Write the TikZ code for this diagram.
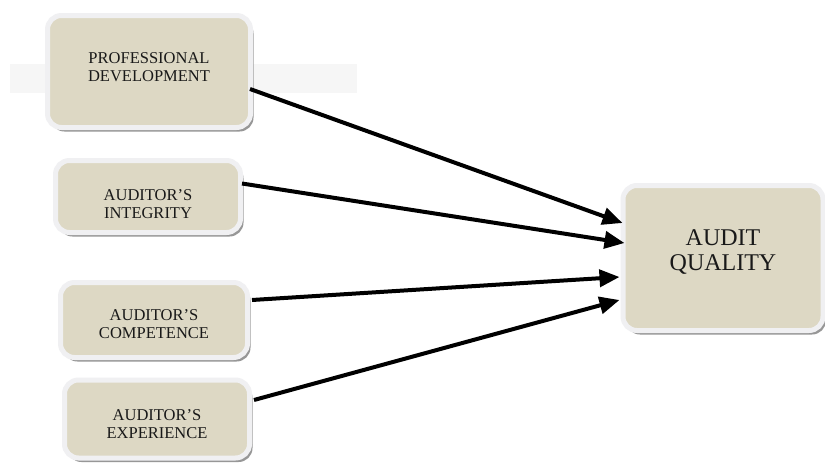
\documentclass[tikz,border=0pt]{standalone}
\usepackage{fontspec}
\setmainfont{Liberation Serif}
\usetikzlibrary{shadows,arrows.meta}
\definecolor{beige}{RGB}{221,216,196}
\definecolor{rim}{RGB}{240,240,242}
\definecolor{band}{RGB}{246,246,246}
\definecolor{shade}{RGB}{140,140,140}
\begin{document}
\begin{tikzpicture}[x=1pt,y=-1pt,
  factor/.style={rectangle, rounded corners=14pt, fill=beige, draw=rim, line width=5pt,
    inner sep=0pt,
    drop shadow={shadow xshift=3pt, shadow yshift=-4pt, fill=shade, opacity=0.9}},
  caption/.style={align=center, inner sep=0pt, text=black!90, font=\fontsize{16.5}{18}\selectfont},
  link/.style={line width=4pt, -{Triangle[length=20pt,width=17pt]}}]
\useasboundingbox (0,0) rectangle (825,466);
\fill[white] (0,0) rectangle (825,466);
\fill[band] (10,64) rectangle (357,93);
\node[factor, minimum width=203pt, minimum height=112pt] (pd) at (149,71.5) {};
\node[factor, minimum width=185pt, minimum height=72pt] (ai) at (148,196.5) {};
\node[factor, minimum width=187pt, minimum height=75pt] (ac) at (154,320) {};
\node[factor, minimum width=185pt, minimum height=78pt] (ae) at (157,419) {};
\node[factor, minimum width=200pt, minimum height=145pt] (aq) at (723,258) {};
\node[caption] (pdt) at ([yshift=4.5pt]pd.center) {PROFESSIONAL\\DEVELOPMENT};
\node[caption] (ait) at ([yshift=-7.5pt]ai.center) {AUDITOR'S\\INTEGRITY};
\node[caption] (act) at ([yshift=-4.5pt]ac.center) {AUDITOR'S\\COMPETENCE};
\node[caption] (aet) at ([yshift=-5.5pt]ae.center) {AUDITOR'S\\EXPERIENCE};
\node[caption, font=\fontsize{24}{25}\selectfont] (aqt) at ([yshift=5.5pt]aq.center) {AUDIT\\QUALITY};
\draw[link] ([xshift=-3pt,yshift=-17.5pt]pd.east) -- ([xshift=2pt,yshift=35pt]aq.west);
\draw[link] ([xshift=-1pt,yshift=13pt]ai.east) -- ([xshift=4pt,yshift=15pt]aq.west);
\draw[link] ([xshift=2pt,yshift=20pt]ac.east) -- ([xshift=-1pt,yshift=-19pt]aq.west);
\draw[link] ([xshift=2pt,yshift=19pt]ae.east) -- ([xshift=-1pt,yshift=-42pt]aq.west);
\end{tikzpicture}
\end{document}
